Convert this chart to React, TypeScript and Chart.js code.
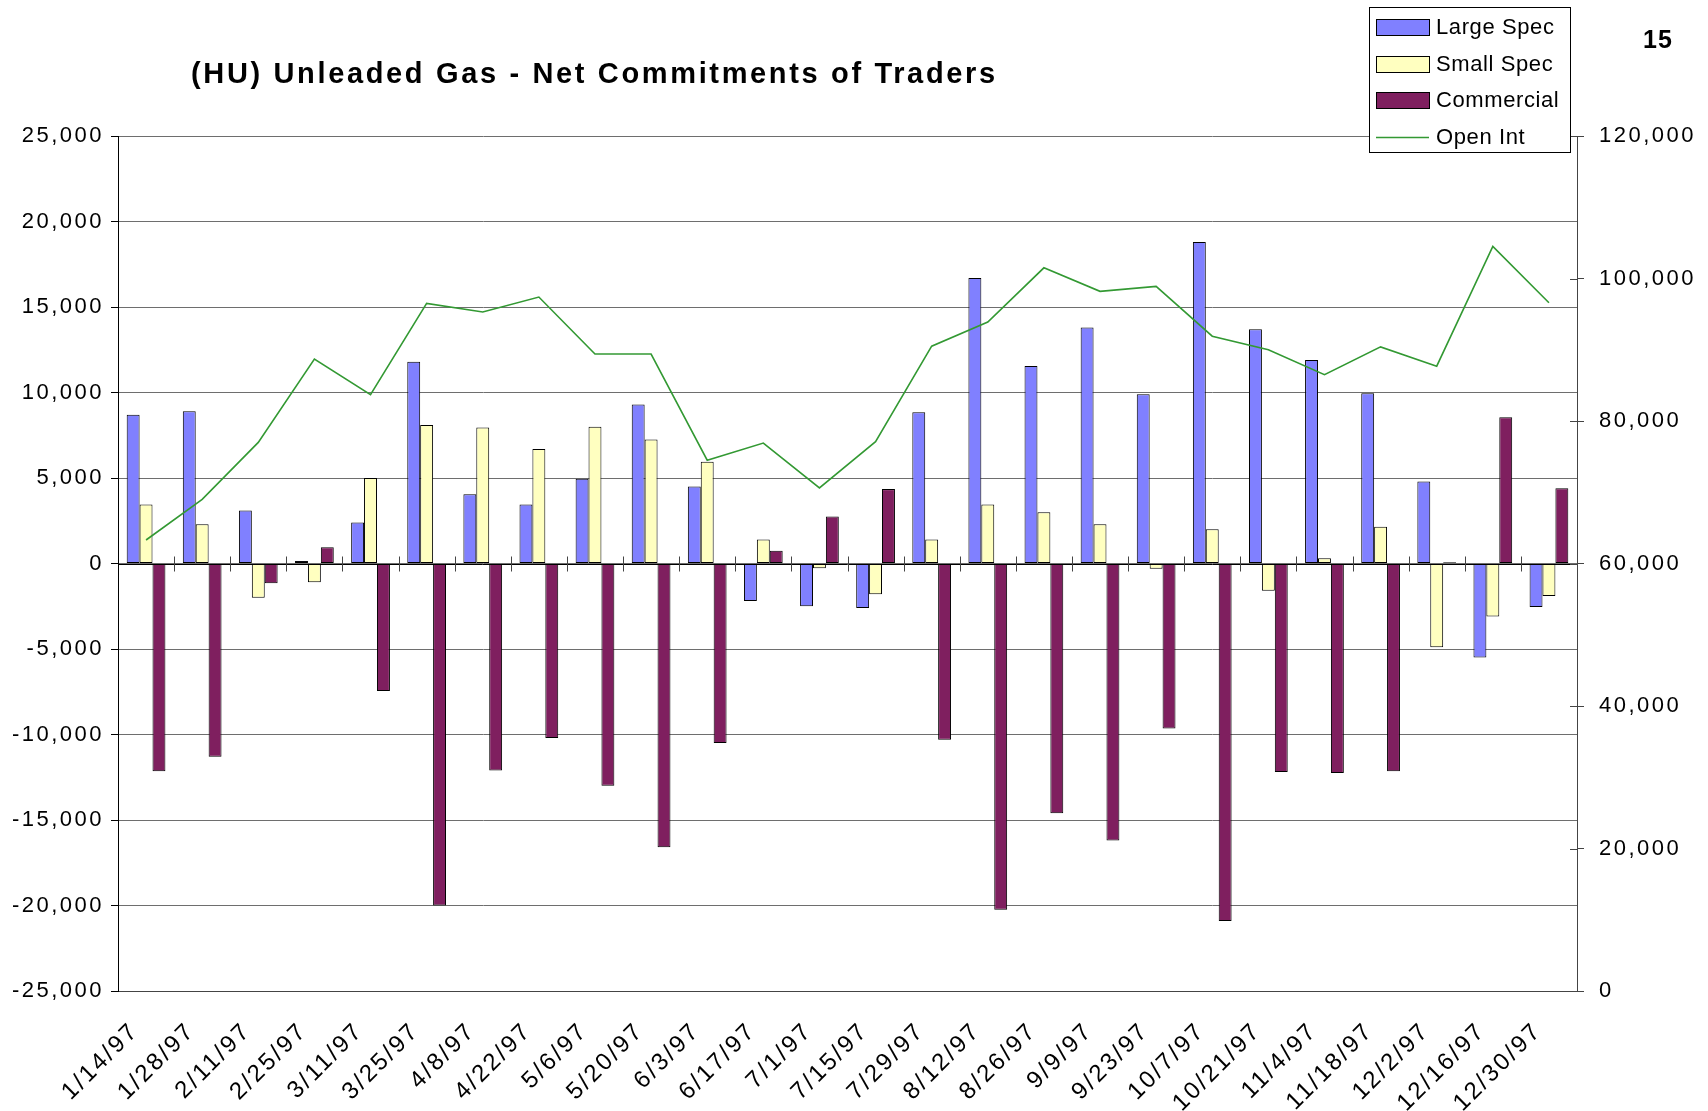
import React, { useEffect, useRef } from 'react';
import { Chart, registerables } from 'chart.js';

Chart.register(...registerables);

const W = 1708;
const H = 1111;
const FONT = '"Liberation Sans", Arial, Helvetica, sans-serif';

const titleText = '(HU) Unleaded Gas - Net Commitments of Traders';
const pageNumber = '15';

const dates = [
  '1/14/97', '1/28/97', '2/11/97', '2/25/97', '3/11/97', '3/25/97', '4/8/97', '4/22/97',
  '5/6/97', '5/20/97', '6/3/97', '6/17/97', '7/1/97', '7/15/97', '7/29/97', '8/12/97',
  '8/26/97', '9/9/97', '9/23/97', '10/7/97', '10/21/97', '11/4/97', '11/18/97', '12/2/97',
  '12/16/97', '12/30/97',
];

const largeSpec = [
  8700, 8900, 3100, 150, 2400, 11800, 4050, 3450, 4950, 9300, 4500, -2200, -2500,
  -2600, 8850, 16700, 11550, 13800, 9900, 18800, 13700, 11900, 9950, 4800, -5500, -2550,
];

const smallSpec = [
  3450, 2300, -2000, -1100, 5000, 8100, 7950, 6700, 8000, 7250, 5950, 1400, -280,
  -1800, 1400, 3450, 3000, 2300, -300, 2000, -1600, 300, 2150, -4900, -3100, -1900,
];

const commercial = [
  -12150, -11300, -1150, 950, -7450, -20000, -12100, -10200, -13000, -16600, -10500, 750, 2750,
  4350, -10300, -20250, -14600, -16200, -9650, -20900, -12200, -12250, -12150, 80, 8550, 4400,
];

const openInt = [
  63300, 69000, 77000, 88700, 83700, 96500, 95300, 97400, 89400, 89400, 74500, 76900, 70600,
  77100, 90500, 93900, 101500, 98200, 98900, 91900, 90000, 86500, 90400, 87700, 104500, 96600,
];

const leftTicks = { min: -25000, max: 25000, step: 5000 };
const rightTicks = { min: 0, max: 120000, step: 20000 };

const fmt = (v: number) => Math.round(v).toLocaleString('en-US');

const decorPlugin = {
  id: 'decor',
  beforeDraw(chart: any) {
    const ctx = chart.ctx;
    ctx.save();
    ctx.fillStyle = '#ffffff';
    ctx.fillRect(0, 0, chart.width, chart.height);
    ctx.restore();
    (ctx as any).letterSpacing = '2.5px';
  },
  beforeDatasetsDraw(chart: any) {
    (chart.ctx as any).letterSpacing = '2.5px';
  },
  afterDatasetsDraw(chart: any) {
    const ctx = chart.ctx;
    const area = chart.chartArea;
    const y = chart.scales.y;
    const x = chart.scales.x;
    const y0 = y.getPixelForValue(0);
    ctx.save();
    ctx.strokeStyle = '#000';
    ctx.lineWidth = 1;
    ctx.beginPath();
    ctx.moveTo(area.left, Math.round(y0) + 0.5);
    ctx.lineTo(area.right, Math.round(y0) + 0.5);
    ctx.stroke();
    const n = dates.length;
    const step = (area.right - area.left) / n;
    ctx.strokeStyle = '#444';
    for (let i = 1; i < n; i++) {
      const px = Math.round(x.getPixelForValue(i) - step / 2) + 0.5;
      ctx.beginPath();
      ctx.moveTo(px, y0 - 7);
      ctx.lineTo(px, y0 + 8);
      ctx.stroke();
    }
    const y1 = chart.scales.y1;
    ctx.strokeStyle = '#444';
    for (let v = rightTicks.min; v <= rightTicks.max; v += rightTicks.step) {
      const py = Math.round(y1.getPixelForValue(v)) + 0.5;
      ctx.beginPath();
      ctx.moveTo(area.right - 7, py);
      ctx.lineTo(area.right, py);
      ctx.stroke();
    }
    ctx.restore();
  },
  afterDraw(chart: any) {
    const ctx = chart.ctx;
    ctx.save();
    (ctx as any).letterSpacing = '2.65px';
    ctx.fillStyle = '#000';
    ctx.font = `bold 29px ${FONT}`;
    ctx.textAlign = 'left';
    ctx.textBaseline = 'alphabetic';
    ctx.fillText(titleText, 191, 83);
    (ctx as any).letterSpacing = '1px';
    ctx.font = `bold 25px ${FONT}`;
    ctx.fillText(pageNumber, 1643, 48);

    (ctx as any).letterSpacing = '0.6px';
    const bx = 1369.5, by = 7.5, bw = 201, bh = 145;
    ctx.fillStyle = '#fff';
    ctx.fillRect(bx, by, bw, bh);
    ctx.strokeStyle = '#000';
    ctx.lineWidth = 1;
    ctx.strokeRect(bx, by, bw, bh);
    const rowY = [27, 64, 100, 137];
    ctx.font = `22px ${FONT}`;
    ctx.textBaseline = 'middle';
    chart.data.datasets.forEach((ds: any, k: number) => {
      const cy = rowY[k];
      if (ds.type === 'line') {
        ctx.strokeStyle = ds.borderColor;
        ctx.lineWidth = 1.5;
        ctx.beginPath();
        ctx.moveTo(1376, cy + 0.5);
        ctx.lineTo(1429, cy + 0.5);
        ctx.stroke();
      } else {
        ctx.fillStyle = ds.backgroundColor;
        ctx.fillRect(1376.5, cy - 7.5, 53, 16);
        ctx.strokeStyle = '#000';
        ctx.lineWidth = 1;
        ctx.strokeRect(1376.5, cy - 7.5, 53, 16);
      }
      ctx.fillStyle = '#000';
      ctx.fillText(ds.label, 1436, cy + 1);
    });
    ctx.restore();
    (ctx as any).letterSpacing = '0px';
  },
};

export default function App() {
  const ref = useRef<HTMLCanvasElement>(null);

  useEffect(() => {
    const canvas = ref.current;
    if (!canvas) return;
    const barCommon = {
      type: 'bar' as const,
      borderColor: '#000000',
      borderWidth: 1,
      borderSkipped: false,
      categoryPercentage: 0.69,
      barPercentage: 1.0,
      yAxisID: 'y',
      order: 2,
    };
    const chart = new Chart(canvas, {
      type: 'bar',
      data: {
        labels: dates,
        datasets: [
          { ...barCommon, label: 'Large Spec', data: largeSpec, backgroundColor: '#8080ff' },
          { ...barCommon, label: 'Small Spec', data: smallSpec, backgroundColor: '#ffffc0' },
          { ...barCommon, label: 'Commercial', data: commercial, backgroundColor: '#7f1f5f' },
          {
            type: 'line',
            label: 'Open Int',
            data: openInt,
            borderColor: '#339933',
            backgroundColor: '#339933',
            borderWidth: 1.6,
            pointRadius: 0,
            tension: 0,
            fill: false,
            yAxisID: 'y1',
            order: 0,
          } as any,
        ],
      },
      options: {
        responsive: false,
        animation: false,
        devicePixelRatio: 1,
        layout: { padding: { top: 136, left: 0, right: 0, bottom: 0 } },
        plugins: {
          legend: { display: false },
          title: { display: false },
          tooltip: { enabled: false },
        },
        scales: {
          x: {
            type: 'category',
            offset: true,
            grid: { display: false },
            border: { display: true, color: '#444', width: 1 },
            ticks: {
              autoSkip: false,
              maxRotation: 45,
              minRotation: 45,
              padding: 18,
              labelOffset: -11,
              color: '#000',
              font: { family: FONT, size: 24 },
            },
            afterFit: (s: any) => {
              s.height = 120;
            },
          },
          y: {
            position: 'left',
            min: leftTicks.min,
            max: leftTicks.max,
            grid: {
              color: '#6e6e6e',
              lineWidth: 1,
              drawTicks: true,
              tickLength: 7,
              tickColor: '#000',
            },
            border: { display: true, color: '#000', width: 1 },
            ticks: {
              stepSize: leftTicks.step,
              padding: 7,
              color: '#000',
              font: { family: FONT, size: 22 },
              callback: (v: any) => fmt(Number(v)),
            },
            afterFit: (s: any) => {
              s.width = 118;
            },
          },
          y1: {
            position: 'right',
            min: rightTicks.min,
            max: rightTicks.max,
            grid: {
              drawOnChartArea: false,
              drawTicks: true,
              tickLength: 7,
              tickColor: '#444',
            },
            border: { display: true, color: '#444', width: 1 },
            ticks: {
              stepSize: rightTicks.step,
              padding: 15,
              color: '#000',
              font: { family: FONT, size: 22 },
              callback: (v: any) => fmt(Number(v)),
            },
            afterFit: (s: any) => {
              s.width = 131;
            },
          },
        },
      },
      plugins: [decorPlugin],
    });
    return () => chart.destroy();
  }, []);

  return (
    <div style={{ position: 'fixed', left: 0, top: 0, width: W, height: H, background: '#fff' }}>
      <canvas ref={ref} width={W} height={H} style={{ display: 'block', width: W, height: H }} />
    </div>
  );
}
